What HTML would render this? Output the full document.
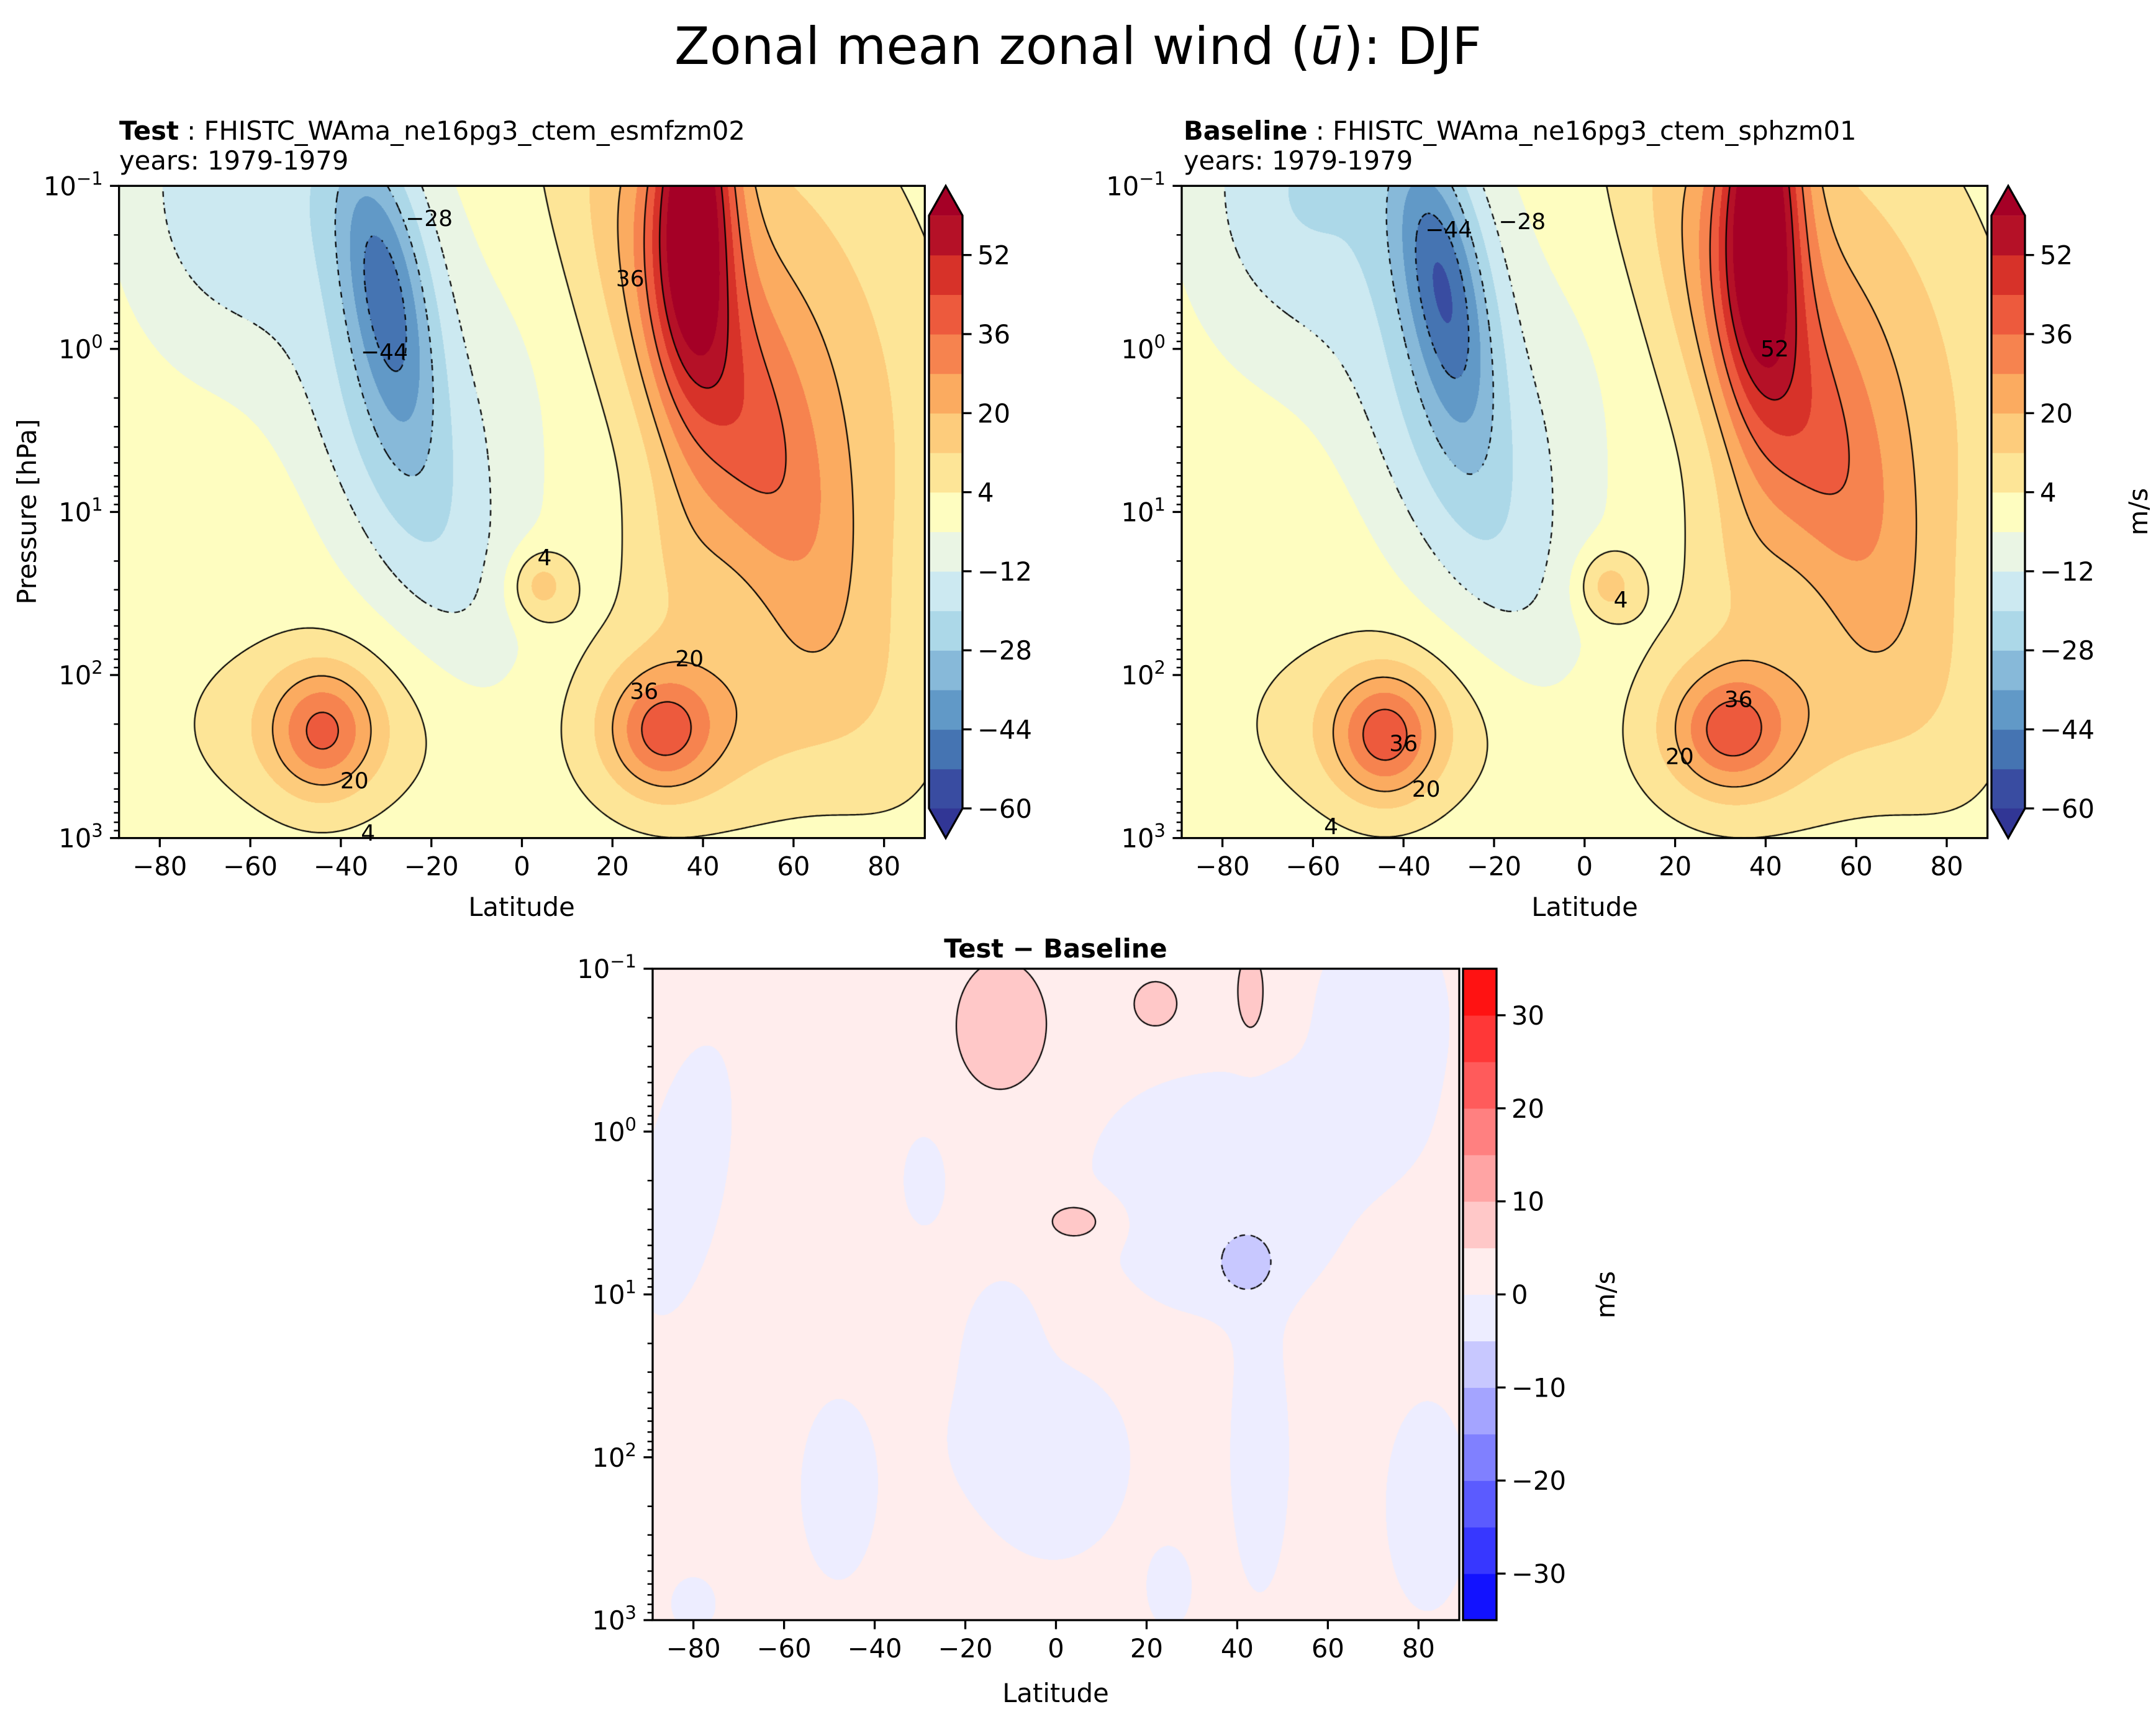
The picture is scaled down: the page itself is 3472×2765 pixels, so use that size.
<!DOCTYPE html>
<html><head><meta charset="utf-8">
<style>
body{margin:0;background:#fff;width:3472px;height:2765px;overflow:hidden;position:relative;font-family:"DejaVu Sans","Liberation Sans",sans-serif}
canvas{position:absolute}
svg{position:absolute;left:0;top:0}
</style></head>
<body>
<canvas id="c1" width="1298" height="1050" style="left:191.7px;top:299.3px;width:1297.6px;height:1050.3px"></canvas>
<canvas id="c2" width="1298" height="1050" style="left:1903px;top:299.3px;width:1297.6px;height:1050.3px"></canvas>
<canvas id="c3" width="1299" height="1049" style="left:1051px;top:1560px;width:1299px;height:1049px"></canvas>
<svg id="ov" width="3472" height="2765" viewBox="0 0 3472 2765" font-family="DejaVu Sans, Liberation Sans, sans-serif">
<text x="1736" y="103" font-size="83" text-anchor="middle">Zonal mean zonal wind (<tspan font-style="italic">ū</tspan>): DJF</text>
<text x="192" y="225" font-size="41.7"><tspan font-weight="bold">Test</tspan> : FHISTC_WAma_ne16pg3_ctem_esmfzm02</text>
<text x="192" y="273" font-size="41.7">years: 1979-1979</text>
<text x="1906" y="225" font-size="41.7"><tspan font-weight="bold">Baseline</tspan> : FHISTC_WAma_ne16pg3_ctem_sphzm01</text>
<text x="1906" y="273" font-size="41.7">years: 1979-1979</text>
<text x="1700" y="1542" font-size="41.7" font-weight="bold" text-anchor="middle">Test − Baseline</text>
<text x="840" y="1475" font-size="41.7" text-anchor="middle">Latitude</text>
<text x="2552" y="1475" font-size="41.7" text-anchor="middle">Latitude</text>
<text x="1700" y="2741" font-size="41.7" text-anchor="middle">Latitude</text>
<text x="0" y="0" font-size="41.7" text-anchor="middle" transform="translate(58,824) rotate(-90)">Pressure [hPa]</text>
<text x="0" y="0" font-size="41.7" text-anchor="middle" transform="translate(3458,824) rotate(-90)">m/s</text>
<text x="0" y="0" font-size="41.7" text-anchor="middle" transform="translate(2600,2085) rotate(-90)">m/s</text>
</svg>
<script>
// ---------- data ----------
const fillLevels = [-60,-52,-44,-36,-28,-20,-12,-4,4,12,20,28,36,44,52,60];
const fillColors = ['#394ca1','#4574b2','#6199c7','#87b9d9','#acd8e8','#cce9f1','#eaf5e4','#fefdc0','#fde597','#fdcc7c','#fbab60','#f6834f','#ed5a3d','#d73229','#b51127'];
const extLow = '#313695', extHigh = '#a50026';
const lineLevels = [-44,-28,-12,4,20,36,52];
const cbTicks = [-60,-44,-28,-12,4,20,36,52];
const diffLevels = [-35,-30,-25,-20,-15,-10,-5,0,5,10,15,20,25,30,35];
const diffLineLevels = [-5,5];
const diffTicks = [-30,-20,-10,0,10,20,30];
const latTicks = [-80,-60,-40,-20,0,20,40,60,80];
const logTicks = [-1,0,1,2,3];
// blobs: [lat0, log10p0, sLat, sLogp, amplitude, tilt(deg lat per decade), exemptFromSaturation]
const testBlobs = [
 [38,-1.0,9,1.1,55,0],[45,0.3,18,1.6,28,14],[60,0,30,1.6,18,8],[35,1.3,12,0.6,8,0],[50,2.2,30,0.6,6,0],
 [-30,-0.3,9,0.9,-30,6],[-30,-0.6,16,1.1,-16,8],[-28,0.8,18,1.2,-18,14],[-65,-1.0,22,1.0,-18,0],[-5,0.5,14,0.9,-6,0],
 [4,1.45,7,0.22,18,0],
 [-44,2.35,11,0.38,27,0],[-45,2.3,26,0.5,12,0],
 [31,2.35,11,0.35,26,0],[35,2.3,26,0.55,12,0]
];
const baseBlobs = [
 [39,-1.0,9,1.15,56,0],[45,0.3,18,1.6,28,14],[60,0,30,1.6,18,8],[35,1.3,12,0.6,8,0],[50,2.2,30,0.6,6,0],
 [-31,-0.35,9,0.9,-32,6],[-32,-0.6,17,1.1,-17,8],[-29,0.8,19,1.2,-18,14],[-65,-1.0,22,1.0,-18,0],[-5,0.5,14,0.9,-6,0],
 [5,1.45,7,0.22,18,0],
 [-44,2.38,11,0.38,30,0],[-45,2.3,26,0.5,12,0],
 [32,2.35,12,0.35,26,0],[35,2.3,26,0.55,12,0]
];
const diffBase = 2;
const diffBlobs = [
 [-82,0.3,10,0.9,-6,-6],[-29,0.3,5,0.3,-6,0],[-48,2.2,9,0.6,-6,0],[72,-0.7,16,0.7,-6,0],
 [45,0.1,30,0.45,-6,0],[30,0.5,20,0.6,-6,0],[45,0.6,15,0.4,-6,0],[-5,1.9,20,0.5,-6,0],[-12,1.3,8,0.4,-6,0],
 [0,2.2,12,0.4,-6,0],[45,2.0,7,0.9,-6,0],[82,2.3,10,0.7,-6,0],[-80,2.9,6,0.2,-5,0],[25,2.8,6,0.3,-5,0],
 [-12,-0.65,12,0.48,6,0],[22,-0.78,5.8,0.17,6,0],[43,-0.85,3.6,0.3,6,0],[5,0.55,8.4,0.15,6,0],[42,0.82,6.6,0.2,-6,0,1]
];
const testLabels = [[-20.5,-0.8,'−28'],[-30.4,0.02,'−44'],[23.9,-0.43,'36'],[5,1.28,'4'],[37,1.9,'20'],[27,2.1,'36'],[-37,2.65,'20'],[-34,2.97,'4']];
const baseLabels = [[-30,-0.73,'−44'],[-13.8,-0.78,'−28'],[42,0,'52'],[8,1.54,'4'],[34,2.15,'36'],[21,2.5,'20'],[-40,2.42,'36'],[-35,2.7,'20'],[-56,2.93,'4']];

// ---------- geometry ----------
const P = [
 {id:'c1',name:'test',L:191.7,T:299.3,W:1297.6,H:1050.3,cbX:1496,cbW:54},
 {id:'c2',name:'baseline',L:1903,T:299.3,W:1297.6,H:1050.3,cbX:3207,cbW:54},
 {id:'c3',name:'diff',L:1051,T:1560,W:1299,H:1049,cbX:2356,cbW:54}
];
const LAT0=-89, LAT1=89;
function xOf(p,lat){return p.L+(lat-LAT0)/(LAT1-LAT0)*p.W;}
function yOf(p,z){return p.T+(z+1)/4*p.H;}
const SAT=4.9;
function field(blobs,base,lat,z,sat){
 let v=base,neg=0;
 for(const b of blobs){const lc=b[0]+b[5]*(z-b[1]);const dl=(lat-lc)/b[2],dz=(z-b[1])/b[3];const c=b[4]*Math.exp(-dl*dl-dz*dz);
  if(sat&&b[4]<0&&!b[6])neg+=c;else v+=c;}
 if(sat)v+=-SAT*(1-Math.exp(neg/SAT));
 return v;
}
function hex(h){return [parseInt(h.substr(1,2),16),parseInt(h.substr(3,2),16),parseInt(h.substr(5,2),16)];}
function bwr(v){const t=(v+35)/70;let r,g,b;if(t<0.5){r=g=2*t;b=1;}else{r=1;g=b=2*(1-t);}return [Math.round(r*255),Math.round(g*255),Math.round(b*255)];}
const mainRGB=fillColors.map(hex), lowRGB=hex(extLow), highRGB=hex(extHigh);
function mainColor(v){if(v<fillLevels[0])return lowRGB;if(v>=fillLevels[fillLevels.length-1])return highRGB;let i=Math.floor((v-fillLevels[0])/8);return mainRGB[Math.max(0,Math.min(14,i))];}
const diffRGB=[];for(let i=0;i<diffLevels.length-1;i++)diffRGB.push(bwr((diffLevels[i]+diffLevels[i+1])/2));
function diffColor(v){let i=Math.floor((v+35)/5);return diffRGB[Math.max(0,Math.min(diffRGB.length-1,i))];}

function drawField(p,blobs,base,colorFn,levels,sat){
 const cv=document.getElementById(p.id),ctx=cv.getContext('2d');const w=cv.width,h=cv.height;
 const img=ctx.createImageData(w,h);const d=img.data;
 for(let j=0;j<h;j++){const z=-1+(j+0.5)/h*4;
  for(let i=0;i<w;i++){const lat=LAT0+(i+0.5)/w*(LAT1-LAT0);const c=colorFn(field(blobs,base,lat,z,sat));const k=(j*w+i)*4;d[k]=c[0];d[k+1]=c[1];d[k+2]=c[2];d[k+3]=255;}}
 ctx.putImageData(img,0,0);
 const s=3,nx=Math.ceil(w/s)+1,ny=Math.ceil(h/s)+1;const G=new Float32Array(nx*ny);
 for(let j=0;j<ny;j++){const z=-1+(j*s)/h*4;for(let i=0;i<nx;i++){G[j*nx+i]=field(blobs,base,LAT0+(i*s)/w*(LAT1-LAT0),z,sat);}}
 ctx.strokeStyle='#000';ctx.lineWidth=2.2;
 for(const L of levels){
  ctx.beginPath();
  for(let j=0;j<ny-1;j++)for(let i=0;i<nx-1;i++){
   const a=G[j*nx+i],b=G[j*nx+i+1],c=G[(j+1)*nx+i+1],dd=G[(j+1)*nx+i];
   const pts=[];const x0=i*s,y0=j*s;
   if((a<L)!==(b<L))pts.push([x0+s*(L-a)/(b-a),y0]);
   if((b<L)!==(c<L))pts.push([x0+s,y0+s*(L-b)/(c-b)]);
   if((dd<L)!==(c<L))pts.push([x0+s*(L-dd)/(c-dd),y0+s]);
   if((a<L)!==(dd<L))pts.push([x0,y0+s*(L-a)/(dd-a)]);
   for(let q=0;q+1<pts.length;q+=2){
    const mx=(pts[q][0]+pts[q+1][0])/2,my=(pts[q][1]+pts[q+1][1])/2;
    if(L<0&&((Math.floor(mx/9)+Math.floor(my/9))%2)!==0)continue;
    ctx.moveTo(pts[q][0],pts[q][1]);ctx.lineTo(pts[q+1][0],pts[q+1][1]);}
  }
  ctx.stroke();
 }
}
drawField(P[0],testBlobs,0,mainColor,lineLevels,false);
drawField(P[1],baseBlobs,0,mainColor,lineLevels,false);
drawField(P[2],diffBlobs,diffBase,diffColor,diffLineLevels,true);

// ---------- SVG overlay ----------
const NS='http://www.w3.org/2000/svg';const ov=document.getElementById('ov');
function mk(tag,attrs,parent){const e=document.createElementNS(NS,tag);for(const k in attrs)e.setAttribute(k,attrs[k]);(parent||ov).appendChild(e);return e;}
function fmt(v){return v<0?'−'+Math.abs(v):String(v);}

P.forEach((p,pi)=>{
 const labs=pi===0?testLabels:pi===1?baseLabels:[];
 labs.forEach(l=>{const t=mk('text',{x:xOf(p,l[0]),y:yOf(p,l[1])+12,'font-size':36,'text-anchor':'middle'});
  
  
  t.textContent=l[2];});
 const r=mk('rect',{x:p.L,y:p.T,width:p.W,height:p.H,fill:'none',stroke:'#000','stroke-width':3.3});
 
 
 latTicks.forEach(v=>{const x=xOf(p,v);
  const tk=mk('line',{x1:x,x2:x,y1:p.T+p.H,y2:p.T+p.H+14.6,stroke:'#000','stroke-width':3.3});
  
  
  const tl=mk('text',{x:x,y:p.T+p.H+60,'font-size':41.7,'text-anchor':'middle'});
  
  
  tl.textContent=fmt(v);});
 logTicks.forEach(z=>{const y=yOf(p,z);
  const tk=mk('line',{x1:p.L-14.6,x2:p.L,y1:y,y2:y,stroke:'#000','stroke-width':3.3});
  
  
  const tl=mk('text',{x:p.L-26,y:y+15,'font-size':41.7,'text-anchor':'end'});
  
  
  tl.appendChild(document.createTextNode('10'));
  const sp=mk('tspan',{dy:-17,'font-size':29},tl);sp.textContent=fmt(z);
  if(z<3){for(let k=2;k<10;k++){const yy=yOf(p,z+Math.log10(k));
   const mt=mk('line',{x1:p.L-8.3,x2:p.L,y1:yy,y2:yy,stroke:'#000','stroke-width':2.5});
   
   }}
 });
 const g=mk('g',{});
 
 
 const X=p.cbX,Wc=p.cbW;
 if(pi<2){
  const ext=p.H/1.1*0.05;const it=p.T+ext,ib=p.T+p.H-ext;
  const yv=v=>it+(fillLevels[fillLevels.length-1]-v)/(fillLevels[fillLevels.length-1]-fillLevels[0])*(ib-it);
  for(let i=0;i<fillColors.length;i++){const y1=yv(fillLevels[i+1]),y2=yv(fillLevels[i]);
   const b=mk('rect',{x:X,y:y1,width:Wc,height:y2-y1+0.6,fill:fillColors[i]},g);
   
   }
  const t1=mk('polygon',{points:`${X},${it} ${X+Wc/2},${p.T} ${X+Wc},${it}`,fill:extHigh},g);
  
  
  const t2=mk('polygon',{points:`${X},${ib} ${X+Wc/2},${p.T+p.H} ${X+Wc},${ib}`,fill:extLow},g);
  
  
  const o=mk('polygon',{points:`${X},${it} ${X+Wc/2},${p.T} ${X+Wc},${it} ${X+Wc},${ib} ${X+Wc/2},${p.T+p.H} ${X},${ib}`,fill:'none',stroke:'#000','stroke-width':3.3},g);
  
  
  cbTicks.forEach(v=>{const y=yv(v);
   const tk=mk('line',{x1:X+Wc,x2:X+Wc+14.6,y1:y,y2:y,stroke:'#000','stroke-width':3.3},g);
   
   
   const tl=mk('text',{x:X+Wc+24,y:y+15,'font-size':41.7},g);
   
   
   tl.textContent=fmt(v);});
 } else {
  const yv=v=>p.T+(35-v)/70*p.H;
  for(let i=0;i<diffRGB.length;i++){const y1=yv(diffLevels[i+1]),y2=yv(diffLevels[i]);const c=diffRGB[i];
   const b=mk('rect',{x:X,y:y1,width:Wc,height:y2-y1+0.6,fill:`rgb(${c[0]},${c[1]},${c[2]})`},g);
   
   }
  const o=mk('rect',{x:X,y:p.T,width:Wc,height:p.H,fill:'none',stroke:'#000','stroke-width':3.3},g);
  
  
  diffTicks.forEach(v=>{const y=yv(v);
   const tk=mk('line',{x1:X+Wc,x2:X+Wc+14.6,y1:y,y2:y,stroke:'#000','stroke-width':3.3},g);
   
   
   const tl=mk('text',{x:X+Wc+24,y:y+15,'font-size':41.7},g);
   
   
   tl.textContent=fmt(v);});
 }
});
</script>
</body></html>
